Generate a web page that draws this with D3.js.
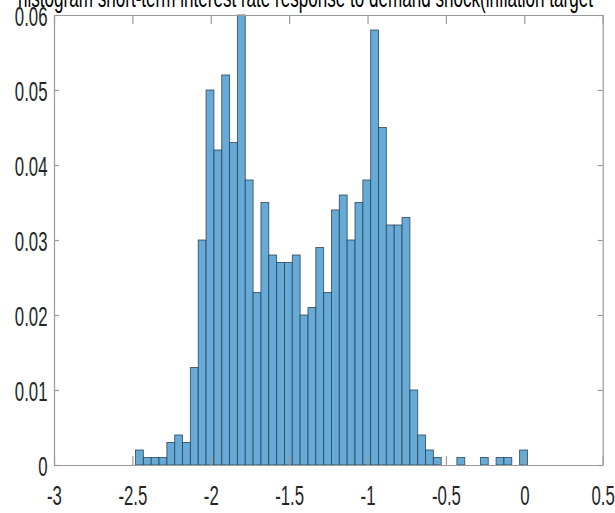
<!DOCTYPE html>
<html><head><meta charset="utf-8">
<script src="https://cdn.jsdelivr.net/npm/d3@7"></script>
<style>
html,body{margin:0;padding:0;background:#fff;}
svg{display:block;}
text{font-family:"Liberation Sans",Arial,Helvetica,sans-serif;}
</style></head>
<body>
<svg id="chart" width="615" height="513"></svg>
<script>
const titleText = "histogram short-term interest rate response to demand shock(inflation target";
const binEdges = [-2.48,-2.43,-2.38,-2.33,-2.28,-2.23,-2.18,-2.13,-2.08,-2.03,-1.98,-1.93,-1.88,-1.83,-1.78,-1.73,-1.68,-1.63,-1.58,-1.53,-1.48,-1.43,-1.38,-1.33,-1.28,-1.23,-1.18,-1.13,-1.08,-1.03,-0.98,-0.93,-0.88,-0.83,-0.78,-0.73,-0.68,-0.63,-0.58,-0.53,-0.48,-0.43,-0.38,-0.33,-0.28,-0.23,-0.18,-0.13,-0.08,-0.03,0.02];
const probabilities = [0.002,0.001,0.001,0.001,0.003,0.004,0.003,0.013,0.030,0.050,
  0.042,0.052,0.043,0.060,0.038,0.023,0.035,0.028,0.027,0.027,
  0.028,0.020,0.021,0.029,0.023,0.034,0.036,0.030,0.035,0.038,
  0.058,0.045,0.032,0.032,0.033,0.010,0.004,0.002,0.001,0,
  0,0.001,0,0,0.001,0,0.001,0.001,0,0.002];
const xTicks = [-3,-2.5,-2,-1.5,-1,-0.5,0,0.5];
const xTickLabels = ["-3","-2.5","-2","-1.5","-1","-0.5","0","0.5"];
const yTicks = [0,0.01,0.02,0.03,0.04,0.05,0.06];
const yTickLabels = ["0","0.01","0.02","0.03","0.04","0.05","0.06"];

const bins = probabilities.map((p,i)=>({x0:binEdges[i],x1:binEdges[i+1],p:p}));

const svg = d3.select("#chart");
const L=54, R=602.7, T=15, B=465;
const x = d3.scaleLinear().domain([-3,0.5]).range([L,R]);
const y = d3.scaleLinear().domain([0,0.06]).range([B,T]);
const sx = 0.6;
const axisColor = "#9a9a9a";
const labelColor = "#262626";

// bars
svg.append("g").selectAll("rect").data(bins).join("rect")
  .attr("x", d=>x(d.x0)).attr("width", d=>x(d.x1)-x(d.x0))
  .attr("y", d=>y(d.p)).attr("height", d=>y(0)-y(d.p))
  .attr("fill","#66aad7")
  .attr("stroke","#2b3f50").attr("stroke-opacity",0.85).attr("stroke-width",0.9);

function styleAxis(g){
  g.select(".domain").attr("stroke",axisColor).attr("stroke-width",1.2);
  g.selectAll(".tick line").attr("stroke",axisColor).attr("stroke-width",1.2);
}

// bottom axis
const gx = svg.append("g").attr("transform",`translate(0,${B})`)
  .call(d3.axisBottom(x).tickValues(xTicks).tickFormat((d,i)=>xTickLabels[i]).tickSizeInner(-9).tickSizeOuter(0));
styleAxis(gx);
gx.selectAll(".tick text").attr("y",40).attr("dy",0)
  .attr("font-size",28).attr("fill",labelColor)
  .attr("transform",`scale(${sx},1)`);

// top axis (box)
const gt = svg.append("g").attr("transform",`translate(0,${T})`)
  .call(d3.axisTop(x).tickValues(xTicks).tickFormat("").tickSizeInner(-9).tickSizeOuter(0));
styleAxis(gt);

// left axis
const gy = svg.append("g").attr("transform",`translate(${L},0)`)
  .call(d3.axisLeft(y).tickValues(yTicks).tickFormat((d,i)=>yTickLabels[i]).tickSizeInner(-5).tickSizeOuter(0));
styleAxis(gy);
gy.selectAll(".tick text").attr("x",-6.5/sx).attr("dy","0.36em")
  .attr("font-size",28).attr("fill",labelColor)
  .attr("transform",`scale(${sx},1)`);

// right axis (box)
const gr = svg.append("g").attr("transform",`translate(${R},0)`)
  .call(d3.axisRight(y).tickValues(yTicks).tickFormat("").tickSizeInner(-5).tickSizeOuter(0));
styleAxis(gr);

// title
svg.append("text").attr("x",18).attr("y",7)
  .attr("font-size",27).attr("fill","#000")
  .attr("textLength",575).attr("lengthAdjust","spacingAndGlyphs")
  .text(titleText);
</script>
</body></html>
